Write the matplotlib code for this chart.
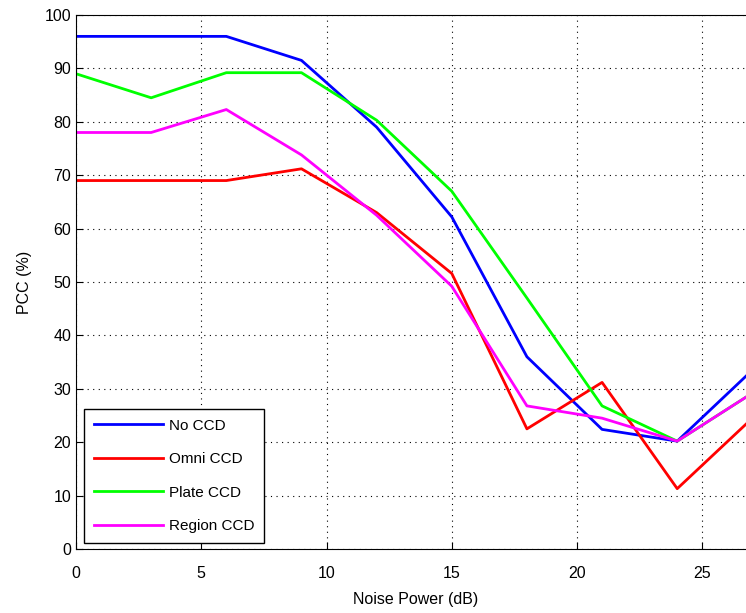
import matplotlib.pyplot as plt
import numpy as np

plt.rcParams['font.family'] = ['Liberation Sans', 'DejaVu Sans']

noise_db = [0, 3, 6, 9, 12, 15, 18, 21, 24, 27]
no_ccd = [96, 96, 96, 91.5, 79, 62.2, 36, 22.4, 20.2, 33.5]
omni_ccd = [69, 69, 69, 71.2, 63, 51.6, 22.5, 31.2, 11.3, 24.5]
plate_ccd = [89, 84.5, 89.2, 89.2, 80.3, 67, 47, 26.8, 20.2, 29.2]
region_ccd = [78, 78, 82.3, 73.8, 62.5, 49.2, 26.8, 24.5, 20.2, 29.2]

labels = ['No CCD', 'Omni CCD', 'Plate CCD', 'Region CCD']
colors = ['#0000ff', '#ff0000', '#00ff00', '#ff00ff']
series = [no_ccd, omni_ccd, plate_ccd, region_ccd]

fig = plt.figure(figsize=(7.46, 6.13), dpi=100)
ax = fig.add_axes([0.1019, 0.1044, 0.91, 0.8711])

for y, lab, c in zip(series, labels, colors):
    ax.plot(noise_db, y, color=c, linewidth=2, label=lab)

ax.set_xlim(0, 27.1)
ax.set_ylim(0, 100)
ax.set_xticks([0, 5, 10, 15, 20, 25])
ax.set_yticks(np.arange(0, 101, 10))
ax.tick_params(direction='in', labelsize=11.5, length=5)
ax.tick_params(axis='x', pad=12)
ax.spines['right'].set_visible(False)
ax.grid(True, linestyle=(0, (1, 4)), color='black', linewidth=0.8)

ax.set_xlabel('Noise Power (dB)', fontsize=11.5, labelpad=8)
ax.set_ylabel('PCC (%)', fontsize=11.5, labelpad=9)

legend = ax.legend(loc='lower left', bbox_to_anchor=(0.012, 0.011), borderaxespad=0,
                   fancybox=False, edgecolor='black', framealpha=1, fontsize=11,
                   handlelength=4.5, borderpad=0.65, labelspacing=1.28, handletextpad=0.4)
legend.get_frame().set_linewidth(1.0)

plt.savefig('out.png', dpi=100)
